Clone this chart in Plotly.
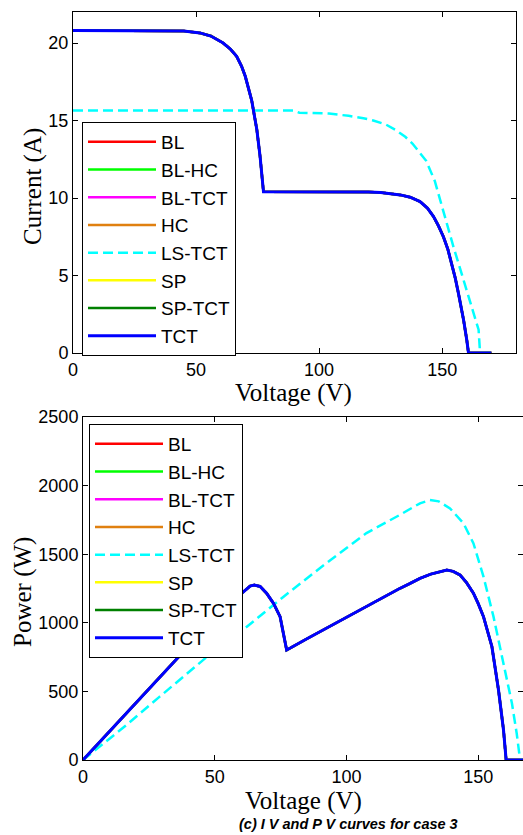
import plotly.graph_objects as go

# ---------------- data ----------------
series_names = ["BL", "BL-HC", "BL-TCT", "HC", "LS-TCT", "SP", "SP-TCT", "TCT"]
series_colors = ["#ff0000", "#00ff00", "#ff00ff", "#e08010", "#00ffff", "#ffff00", "#008000", "#0000ff"]

# I-V curve shared by BL, BL-HC, BL-TCT, HC, SP, SP-TCT, TCT (they overlap)
v_iv_main = [0, 10, 20, 30, 40, 45, 51.6, 56, 61, 64, 66.5, 68.5, 70, 72.6, 74.7, 76, 77.4,
             90, 100, 110, 120, 125, 130, 133, 137, 141, 144, 146.5, 148.5, 150.5, 152.3, 153.9,
             155.3, 156.6, 157.7, 158.7, 160, 160.7, 165, 170]
i_iv_main = [20.8, 20.8, 20.8, 20.8, 20.8, 20.78, 20.65, 20.45, 20.0, 19.6, 19.14, 18.5, 17.85, 16.3,
             14.4, 12.7, 10.4,
             10.4, 10.4, 10.4, 10.38, 10.35, 10.28, 10.2, 10.05, 9.77, 9.35, 8.8, 8.2, 7.5, 6.7, 5.8,
             4.85, 3.86, 3.0, 2.13, 0.84, 0, 0, 0]

# I-V curve for LS-TCT
v_iv_ls = [0, 20, 40, 60, 80, 89.5, 92, 100, 104, 112, 118, 122, 127, 131, 135, 138, 140.5, 143.5,
           147, 150.5, 154.5, 158.7, 162, 164.8, 165.4, 170]
i_iv_ls = [15.65, 15.65, 15.65, 15.65, 15.65, 15.65, 15.5, 15.48, 15.45, 15.3, 15.15, 15.0, 14.75, 14.4,
           13.95, 13.5, 13.0, 12.4, 11.1, 9.1, 6.9, 4.7, 3.0, 1.5, 0, 0]

# P-V curve shared by the overlapping configurations
v_pv_main = [0, 10, 20, 30, 40, 50, 55, 58, 61, 63.4, 65, 67.2, 69.7, 72.3, 74.8, 76.1, 77.3, 85,
             93.8, 100, 110, 120, 124, 127.9, 132, 135, 138.1, 140.5, 143.1, 145.5, 148.2, 150, 152,
             155.2, 157.7, 159.6, 160.6, 167]
p_pv_main = [0, 208, 416, 624, 830, 1035, 1125, 1180, 1227, 1268, 1276, 1265, 1215, 1142, 1045, 923,
             802, 884, 976, 1040, 1144, 1248, 1285, 1324, 1355, 1372, 1385, 1375, 1348, 1295, 1215,
             1140, 1045, 826, 510, 219, 0, 0]

# P-V curve for LS-TCT
v_pv_ls = [0, 16.5, 29, 39, 49.4, 61.5, 76, 90, 95, 107.6, 120.3, 124, 127.9, 131.7, 135, 139.3,
           144.4, 148.2, 152, 155.8, 159.6, 162.8, 164.6, 165.9, 167]
p_pv_ls = [0, 255, 460, 625, 790, 960, 1188, 1400, 1472, 1654, 1787, 1830, 1871, 1895, 1885, 1834,
           1725, 1579, 1336, 1045, 705, 413, 195, 0, 0]

x_ticks = [0, 50, 100, 150]
i_ticks = [0, 5, 10, 15, 20]
p_ticks = [0, 500, 1000, 1500, 2000, 2500]

# ---------------- figure ----------------
W, H = 523, 835
fig = go.Figure()

for name, color in zip(series_names, series_colors):
    is_ls = name == "LS-TCT"
    width = 3 if name == "TCT" else 2.5
    line = dict(color=color, width=width, dash="10px,5px" if is_ls else "solid")
    fig.add_trace(go.Scatter(
        x=v_iv_ls if is_ls else v_iv_main,
        y=i_iv_ls if is_ls else i_iv_main,
        mode="lines", name=name, line=line,
        xaxis="x", yaxis="y", legend="legend"))
    fig.add_trace(go.Scatter(
        x=v_pv_ls if is_ls else v_pv_main,
        y=p_pv_ls if is_ls else p_pv_main,
        mode="lines", name=name, line=line,
        xaxis="x2", yaxis="y2", legend="legend2"))

tick_font = dict(family="Liberation Sans, Arial", size=18, color="black")
axis_common = dict(showline=True, linecolor="black", linewidth=1, mirror="ticks",
                   ticks="inside", ticklen=5, tickcolor="black", showgrid=False,
                   zeroline=False, tickfont=tick_font, automargin=False)

def px_x(p):
    return p / W

def px_y(p):
    return 1 - p / H

fig.update_layout(
    width=W, height=H,
    margin=dict(l=0, r=0, t=0, b=0, autoexpand=False),
    paper_bgcolor="white", plot_bgcolor="white",
    showlegend=True,
    xaxis=dict(domain=[px_x(73), px_x(516)], range=[0, 180], tickvals=x_ticks, anchor="y", **axis_common),
    yaxis=dict(domain=[px_y(353), px_y(12)], range=[0, 22], tickvals=i_ticks, anchor="x", **axis_common),
    xaxis2=dict(domain=[px_x(83), 1.0], range=[0, 167], tickvals=x_ticks, anchor="y2", **axis_common),
    yaxis2=dict(domain=[px_y(760), px_y(417)], range=[0, 2500], tickvals=p_ticks, anchor="x2", **axis_common),
    legend=dict(x=px_x(82), y=px_y(122), xanchor="left", yanchor="top",
                bgcolor="white", bordercolor="black", borderwidth=1,
                font=dict(family="Liberation Sans, Arial", size=19, color="black"),
                itemwidth=68, tracegroupgap=0),
    legend2=dict(x=px_x(89), y=px_y(424), xanchor="left", yanchor="top",
                 bgcolor="white", bordercolor="black", borderwidth=1,
                 font=dict(family="Liberation Sans, Arial", size=19, color="black"),
                 itemwidth=68, tracegroupgap=0),
)

title_font = dict(family="Liberation Serif, Times New Roman", size=25, color="black")
fig.add_annotation(text="Current (A)", x=px_x(33), y=px_y(187), xref="paper", yref="paper",
                   textangle=-90, showarrow=False, font=title_font, xanchor="center", yanchor="middle")
fig.add_annotation(text="Voltage (V)", x=px_x(293), y=px_y(393), xref="paper", yref="paper",
                   showarrow=False, font=title_font, xanchor="center", yanchor="middle")
fig.add_annotation(text="Power (W)", x=px_x(23), y=px_y(592), xref="paper", yref="paper",
                   textangle=-90, showarrow=False, font=title_font, xanchor="center", yanchor="middle")
fig.add_annotation(text="Voltage (V)", x=px_x(303), y=px_y(801), xref="paper", yref="paper",
                   showarrow=False, font=title_font, xanchor="center", yanchor="middle")
fig.add_annotation(text="<b><i>(c) I V and P V curves for case 3</i></b>", x=px_x(348), y=px_y(824),
                   xref="paper", yref="paper", showarrow=False,
                   font=dict(family="Liberation Sans, Arial", size=14.5, color="black"),
                   xanchor="center", yanchor="middle")

fig.write_html("out.html")
